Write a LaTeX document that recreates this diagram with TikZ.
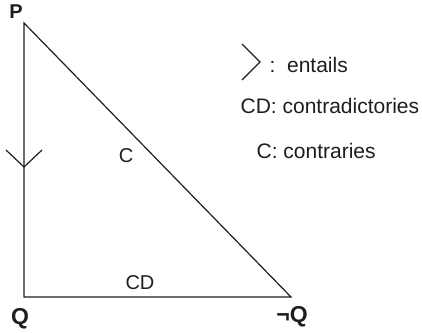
\documentclass[tikz,border=0pt]{standalone}
\usepackage{fontspec}
\setmainfont{Liberation Sans}
\usepackage{tikz}
\usetikzlibrary{positioning,calc}
\definecolor{inkgray}{RGB}{30,30,30}
\colorlet{edge_color}{inkgray}

\begin{document}
\begin{tikzpicture}[x=1pt,y=-1pt,line width=1.2pt,
    side/.style={draw=edge_color},
    vlabel/.style={font=\fontsize{21}{21}\selectfont\bfseries,text=inkgray,inner sep=0pt},
    elabel/.style={font=\fontsize{20}{20}\selectfont,text=inkgray,inner sep=0pt},
    legend/.style={font=\fontsize{21}{21}\selectfont,text=inkgray,inner sep=0pt,anchor=base west}]
        \useasboundingbox (0,0) rectangle (422,332);
        % corners of the triangle
        \coordinate (P) at (24,23);
        \coordinate (Q) at (24,297);
        \coordinate (nQ) at (291,297);
        \coordinate (ent) at (24,167);
        \draw[side] (P) -- (Q) -- (nQ) -- cycle;
        \draw[side] ($(ent)+(-18,-17)$) -- (ent) -- ($(ent)+(18,-17)$);
        \node[vlabel,font=\fontsize{20}{20}\selectfont\bfseries] (Plab) at (16,12) {P};
        \node[vlabel,font=\fontsize{23}{23}\selectfont\bfseries] (Qlab) at (20,319) {Q};
        \node[vlabel,font=\fontsize{23}{23}\selectfont\bfseries] (nQlab) at (292,317) {¬Q};
        \node[elabel] (Clab) at (126,156) {C};
        \node[elabel] (CDlab) at (140,283) {CD};
        % legend
        \coordinate (chev) at (260,62);
        \draw[side] ($(chev)+(-18,-18)$) -- (chev) -- ($(chev)+(-18,18)$);
        \node[legend] (leg1) at (269,72) {:~~entails};
        \node[legend] (leg2) at (240,113) {CD: contradictories};
        \node[legend] (leg3) at (256,158) {C: contraries};
      \end{tikzpicture}
\end{document}
